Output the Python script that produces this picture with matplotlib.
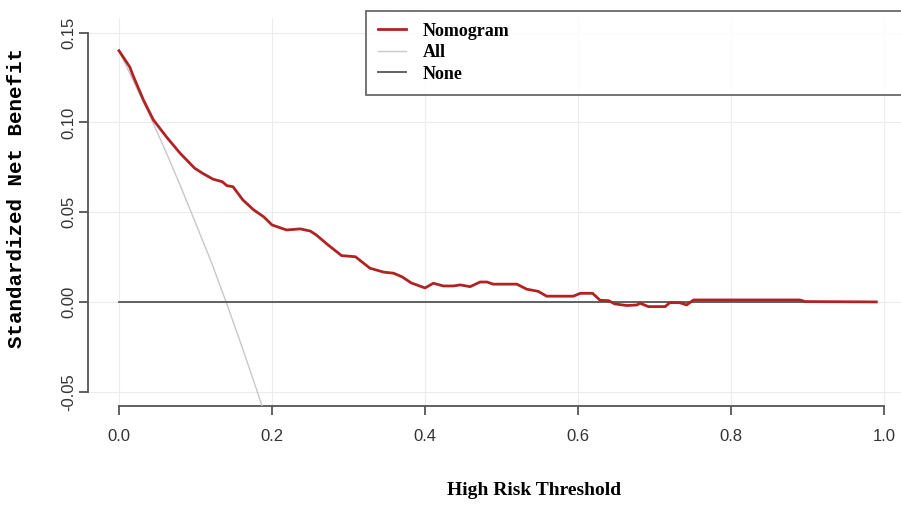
"""
Decision curve: standardized net benefit of the nomogram vs treat-all / treat-none.
"""
import matplotlib
matplotlib.use("Agg")
import matplotlib.pyplot as plt

# values
thr_nomo = [0.0, 0.014, 0.019, 0.032, 0.045, 0.062, 0.080, 0.099, 0.110, 0.123,
            0.135, 0.141, 0.149, 0.162, 0.176, 0.189, 0.200, 0.219, 0.237, 0.250,
            0.258, 0.272, 0.291, 0.309, 0.328, 0.346, 0.359, 0.370, 0.382, 0.400,
            0.411, 0.424, 0.437, 0.446, 0.459, 0.472, 0.481, 0.489, 0.520, 0.533,
            0.548, 0.559, 0.594, 0.603, 0.619, 0.629, 0.640, 0.648, 0.664, 0.677,
            0.681, 0.692, 0.714, 0.720, 0.733, 0.742, 0.751, 0.890, 0.897, 0.990]
nb_nomo = [0.140, 0.131, 0.1255, 0.1125, 0.1014, 0.092, 0.0828, 0.0745, 0.0715, 0.0684,
           0.0670, 0.0648, 0.0642, 0.0568, 0.0513, 0.0475, 0.0429, 0.0401, 0.0407, 0.0395,
           0.0373, 0.0322, 0.0258, 0.0252, 0.0188, 0.0166, 0.0160, 0.0140, 0.0106, 0.0078,
           0.0104, 0.0089, 0.0089, 0.0095, 0.0085, 0.0111, 0.0111, 0.0099, 0.0099, 0.0071,
           0.0059, 0.0032, 0.0032, 0.0048, 0.0048, 0.0009, 0.0007, -0.0011, -0.0020, -0.0017,
           -0.0007, -0.0026, -0.0026, -0.0004, -0.0004, -0.0017, 0.0011, 0.0011, 0.0002, 0.0]

thr_all = [0.0, 0.02, 0.04, 0.06, 0.08, 0.10, 0.12, 0.14, 0.16, 0.18, 0.20]
nb_all = [0.140, 0.122, 0.104, 0.085, 0.065, 0.044, 0.023, 0.000, -0.024, -0.049, -0.075]

thr_none = [0.0, 0.99]
nb_none = [0.0, 0.0]

xticks = [0.0, 0.2, 0.4, 0.6, 0.8, 1.0]
yticks = [-0.05, 0.0, 0.05, 0.10, 0.15]

narrow = ["Liberation Sans Narrow", "Liberation Sans", "DejaVu Sans"]
serif = ["DejaVu Serif Condensed", "Liberation Serif", "DejaVu Serif"]


def main():
    fig = plt.figure(figsize=(9.01, 5.07), dpi=100)
    ax = fig.add_axes([0.0981, 0.1992, 0.917, 0.7645])

    ax.set_xlim(-0.04, 1.04)
    ax.set_ylim(-0.058, 0.158)

    ax.set_xticks(xticks)
    ax.set_yticks(yticks)
    ax.grid(True, color="#ececec", linewidth=0.8)
    ax.set_axisbelow(True)

    ax.plot(thr_nomo, nb_nomo, color="#b22222", linewidth=2.0, label="Nomogram", zorder=4)
    ax.plot(thr_all, nb_all, color="#c8c8c8", linewidth=1.0, label="All", zorder=3)
    ax.plot(thr_none, nb_none, color="#555555", linewidth=1.3, label="None", zorder=3)

    # R style detached axes
    for s in ["top", "right"]:
        ax.spines[s].set_visible(False)
    ax.spines["bottom"].set_bounds(0.0, 1.0)
    ax.spines["left"].set_bounds(-0.05, 0.15)
    for s in ["bottom", "left"]:
        ax.spines[s].set_color("#555555")
        ax.spines[s].set_linewidth(1.3)
    ax.tick_params(direction="out", length=6.5, width=1.3, color="#555555",
                   labelsize=12, labelcolor="#333333")
    ax.tick_params(axis="x", pad=10)
    ax.tick_params(axis="y", pad=2)
    ax.set_xticklabels(["0.0", "0.2", "0.4", "0.6", "0.8", "1.0"], family=narrow)
    ax.set_yticklabels(["-0.05", "0.00", "0.05", "0.10", "0.15"], family=narrow,
                       rotation=90, va="center")

    ax.set_xlabel("High Risk Threshold", family=serif, fontweight="bold", fontsize=14)
    ax.xaxis.set_label_coords(0.54, -0.196)
    ax.set_ylabel("Standardized Net Benefit", family="Liberation Mono",
                  fontweight="bold", fontsize=15)
    ax.yaxis.set_label_coords(-0.0755, 0.537)

    leg = ax.legend(loc="upper left", bbox_to_anchor=(0.336, 0.805, 0.70, 0.214),
                    mode="expand", borderaxespad=0, fancybox=False, frameon=True,
                    handlelength=1.55, handletextpad=0.95, labelspacing=0.25,
                    borderpad=0.65, prop={"family": serif, "size": 13, "weight": "bold"})
    leg.get_frame().set_edgecolor("#444444")
    leg.get_frame().set_linewidth(1.3)

    fig.savefig("out.png", dpi=100)


if __name__ == "__main__":
    main()
